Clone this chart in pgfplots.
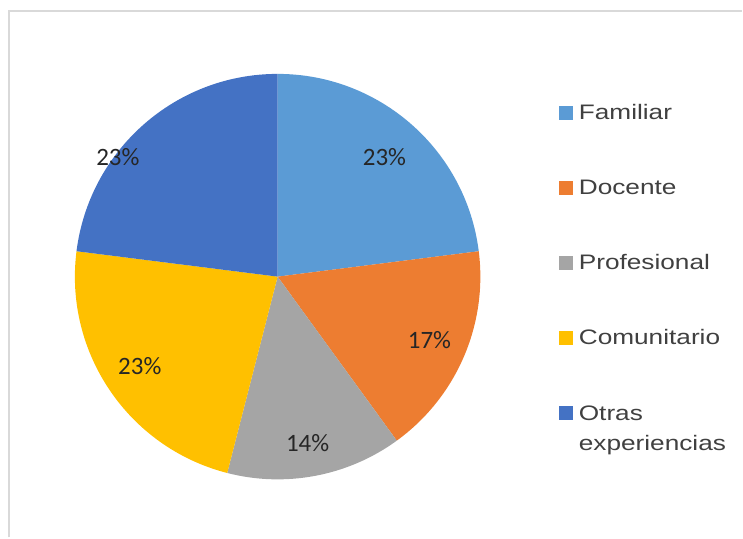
\documentclass[border=0pt]{standalone}
\usepackage{pgfplots}
\pgfplotsset{compat=1.18}
\usepackage{pgfplotstable}
\usepackage{fontspec}
\setmainfont{Liberation Sans}
\newfontfamily\calib{Carlito}
\definecolor{famc}{HTML}{5B9BD5}
\definecolor{docc}{HTML}{ED7D31}
\definecolor{proc}{HTML}{A5A5A5}
\definecolor{comc}{HTML}{FFC000}
\definecolor{otrc}{HTML}{4472C4}
\definecolor{framec}{HTML}{D9D9D9}
\definecolor{txtc}{HTML}{404040}
\definecolor{lblc}{HTML}{262626}

% value, colour, label position (canvas px, y upward)
\pgfplotstableread{
label value color lx ly
Familiar 23 famc 385 381
Docente 17 docc 430 197
Profesional 14 proc 308 94
Comunitario 23 comc 140 171
Otras 23 otrc 118 381
}\piedata

\begin{document}
\begin{tikzpicture}
\begin{axis}[
  x=1pt, y=1pt,
  xmin=0, xmax=743, ymin=0, ymax=538,
  hide axis, clip=false,
  legend style={at={(axis cs:560,433.5)}, anchor=north west, draw=none, fill=none,
    inner sep=0pt, row sep=56.25pt,
    nodes={inner sep=0pt, text height=15pt, text depth=4pt, anchor=base west, text=txtc,
      font=\fontsize{21}{30}\selectfont}},
  legend cell align=left,
  legend image code/.code={\fill[#1] (0pt,0.5pt) rectangle (13pt,13.5pt); \path (19pt,0pt);},
]
\path (axis cs:0,0) rectangle (axis cs:743,538);
\draw[framec, line width=2pt] (axis cs:9,0) -- (axis cs:9,527) -- (axis cs:743,527);

\def\startangle{90}
\pgfplotsforeachungrouped \i in {0,...,4}{%
  \pgfplotstablegetelem{\i}{value}\of\piedata \let\val\pgfplotsretval
  \pgfplotstablegetelem{\i}{color}\of\piedata \let\col\pgfplotsretval
  \pgfplotstablegetelem{\i}{lx}\of\piedata \let\lx\pgfplotsretval
  \pgfplotstablegetelem{\i}{ly}\of\piedata \let\ly\pgfplotsretval
  \pgfmathsetmacro\endangle{\startangle-3.6*\val}%
  \pgfmathsetmacro\sx{278+203*cos(\startangle)}%
  \pgfmathsetmacro\sy{261+203*sin(\startangle)}%
  \edef\temp{\noexpand\fill[\col] (axis cs:278,261) -- (axis cs:\sx,\sy) arc[start angle=\startangle, end angle=\endangle, radius=203] -- cycle;
    \noexpand\node[text=lblc, font=\noexpand\calib\noexpand\fontsize{25}{30}\noexpand\selectfont] at (axis cs:\lx,\ly) {\val\noexpand\%};}%
  \temp
  \global\let\startangle\endangle
}

\addlegendimage{famc}
\addlegendentry{\scalebox{1.25}[1]{Familiar}}
\addlegendimage{docc}
\addlegendentry{\scalebox{1.25}[1]{Docente}}
\addlegendimage{proc}
\addlegendentry{\scalebox{1.25}[1]{Profesional}}
\addlegendimage{comc}
\addlegendentry{\scalebox{1.25}[1]{Comunitario}}
\addlegendimage{otrc}
\addlegendentry{\scalebox{1.25}[1]{\begin{tabular}[t]{@{}l@{}}Otras\\experiencias\end{tabular}}}
\end{axis}
\end{tikzpicture}
\end{document}
